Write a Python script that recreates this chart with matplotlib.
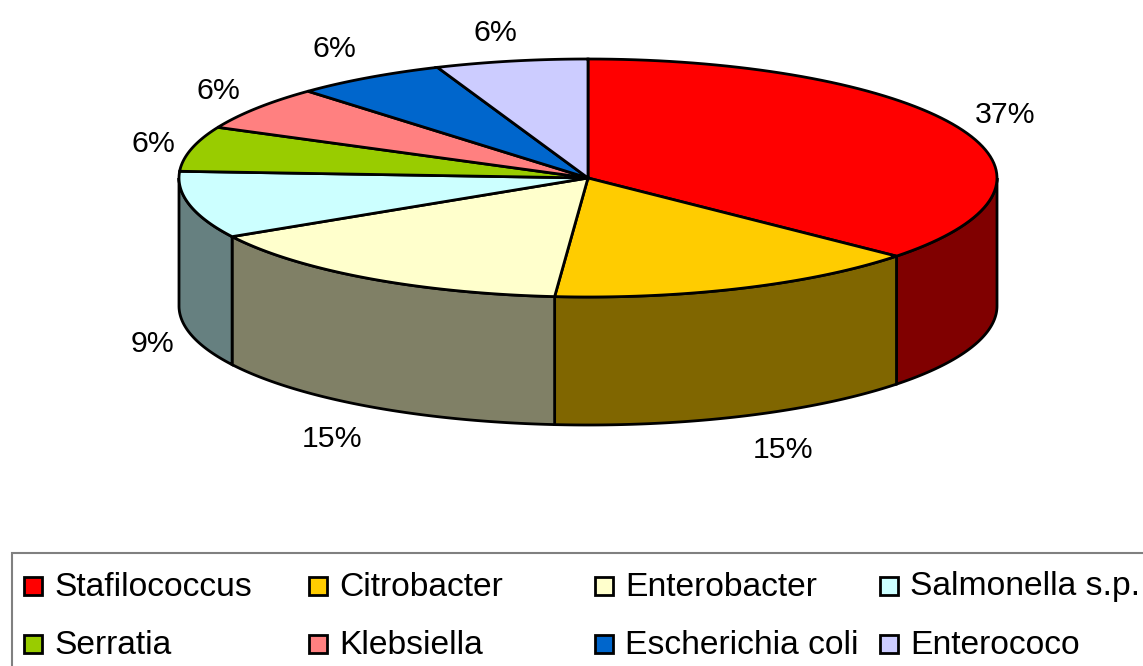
import matplotlib
matplotlib.use("Agg")
import matplotlib.pyplot as plt
import numpy as np

plt.rcParams["font.family"] = ["Liberation Sans", "DejaVu Sans"]

categories = ["Stafilococcus", "Citrobacter", "Enterobacter", "Salmonella s.p.",
              "Serratia", "Klebsiella", "Escherichia coli", "Enterococo"]
shares = [36.4, 14.9, 15.5, 9.1, 6.1, 6.0, 6.0, 6.0]
pct_labels = ["37%", "15%", "15%", "9%", "6%", "6%", "6%", "6%"]
top_colors = ["#ff0000", "#ffcc00", "#ffffcc", "#ccffff",
              "#99cc00", "#ff8080", "#0066cc", "#ccccff"]
side_colors = ["#800000", "#806600", "#808066", "#668080"]
label_pos = [(1005, 115), (783, 450), (332, 439), (153, 344),
             (153, 144), (218, 91), (334, 49), (495, 33)]

cx, cy = 588, 178
rx, ry = 409, 119
depth = 128


def rim(t):
    t = np.radians(t)
    return cx + rx * np.sin(t), cy - ry * np.cos(t)


fig = plt.figure(figsize=(11.43, 6.66), dpi=100)
ax = fig.add_axes([0, 0, 1, 1])
ax.set_xlim(0, 1143)
ax.set_ylim(666, 0)
ax.axis("off")

bounds = np.concatenate([[0], np.cumsum(shares)]) / sum(shares) * 360

# side walls, only the front half of the cylinder shows
for i in range(len(side_colors)):
    a = max(bounds[i], 90)
    b = min(bounds[i + 1], 270)
    x, y = rim(np.linspace(a, b, 80))
    xs = np.concatenate([x, x[::-1]])
    ys = np.concatenate([y, y[::-1] + depth])
    ax.fill(xs, ys, facecolor=side_colors[i], edgecolor="black", lw=2, zorder=2)

# top face
for i in range(len(shares)):
    x, y = rim(np.linspace(bounds[i], bounds[i + 1], 80))
    xs = np.concatenate([[cx], x])
    ys = np.concatenate([[cy], y])
    ax.fill(xs, ys, facecolor=top_colors[i], edgecolor="black", lw=2, zorder=3)

for lab, (x, y) in zip(pct_labels, label_pos):
    ax.text(x, y, lab, fontsize=21.8, ha="center", va="center", color="black")

# legend frame runs off the right edge
ax.add_patch(plt.Rectangle((12, 553), 1140, 120, facecolor="white",
                           edgecolor="#808080", lw=1.5, zorder=1))
col_x = [24, 309, 595, 880]
row_y = [586, 644]
for i, name in enumerate(categories):
    x = col_x[i % 4]
    y = row_y[i // 4]
    ax.add_patch(plt.Rectangle((x, y - 9), 18, 18, facecolor=top_colors[i],
                               edgecolor="black", lw=2, zorder=3))
    ax.text(x + 30, y + 1, name, fontsize=24.2, ha="left", va="center", color="black")

fig.savefig("out.png", dpi=100)
